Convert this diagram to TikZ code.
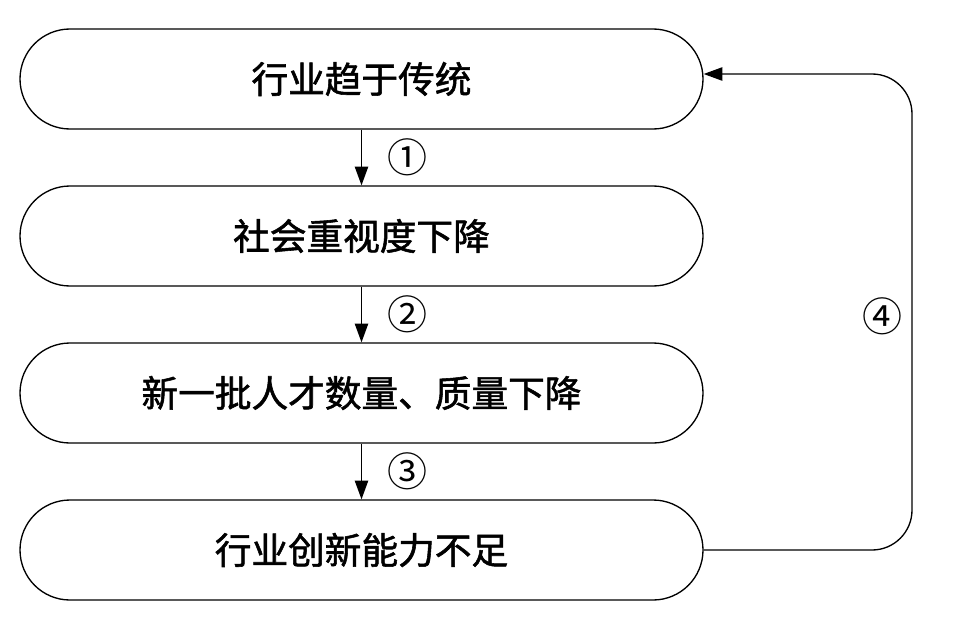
\documentclass[tikz,border=0pt]{standalone}
\usepackage{fontspec}
\setmainfont{Noto Sans CJK SC}[AutoFakeBold=1.5]
\usetikzlibrary{arrows.meta}
\begin{document}
\begin{tikzpicture}[x=0.75pt,y=-0.75pt,
  box/.style={draw,line width=1pt,rounded corners=50*0.75pt,minimum width=683*0.75pt,minimum height=100*0.75pt,font=\fontsize{27.5}{30}\selectfont\bfseries},
  arr/.style={line width=1pt,-{Triangle[length=14pt,width=10pt]}},
  num/.style={font=\fontsize{30}{32}\selectfont}]
\useasboundingbox (0,0) rectangle (971,632);
\node[box] (b1) at (361.5,79) {行业趋于传统};
\node[box] (b2) at (361.5,236) {社会重视度下降};
\node[box] (b3) at (361.5,393) {新一批人才数量、质量下降};
\node[box] (b4) at (361.5,550) {行业创新能力不足};
\draw[arr] (b1.south) -- (b2.north);
\draw[arr] (b2.south) -- (b3.north);
\draw[arr] (b3.south) -- (b4.north);
\node[num] (n1) at (407,157) {①};
\node[num] (n2) at (407,314) {②};
\node[num] (n3) at (407,471) {③};
\node[num] (n4) at (882,316) {④};
\draw[arr,rounded corners=40*0.75pt] (b4.east) -- (912,550) -- (912,74) -- (b1.east|-0,74);
\end{tikzpicture}
\end{document}
